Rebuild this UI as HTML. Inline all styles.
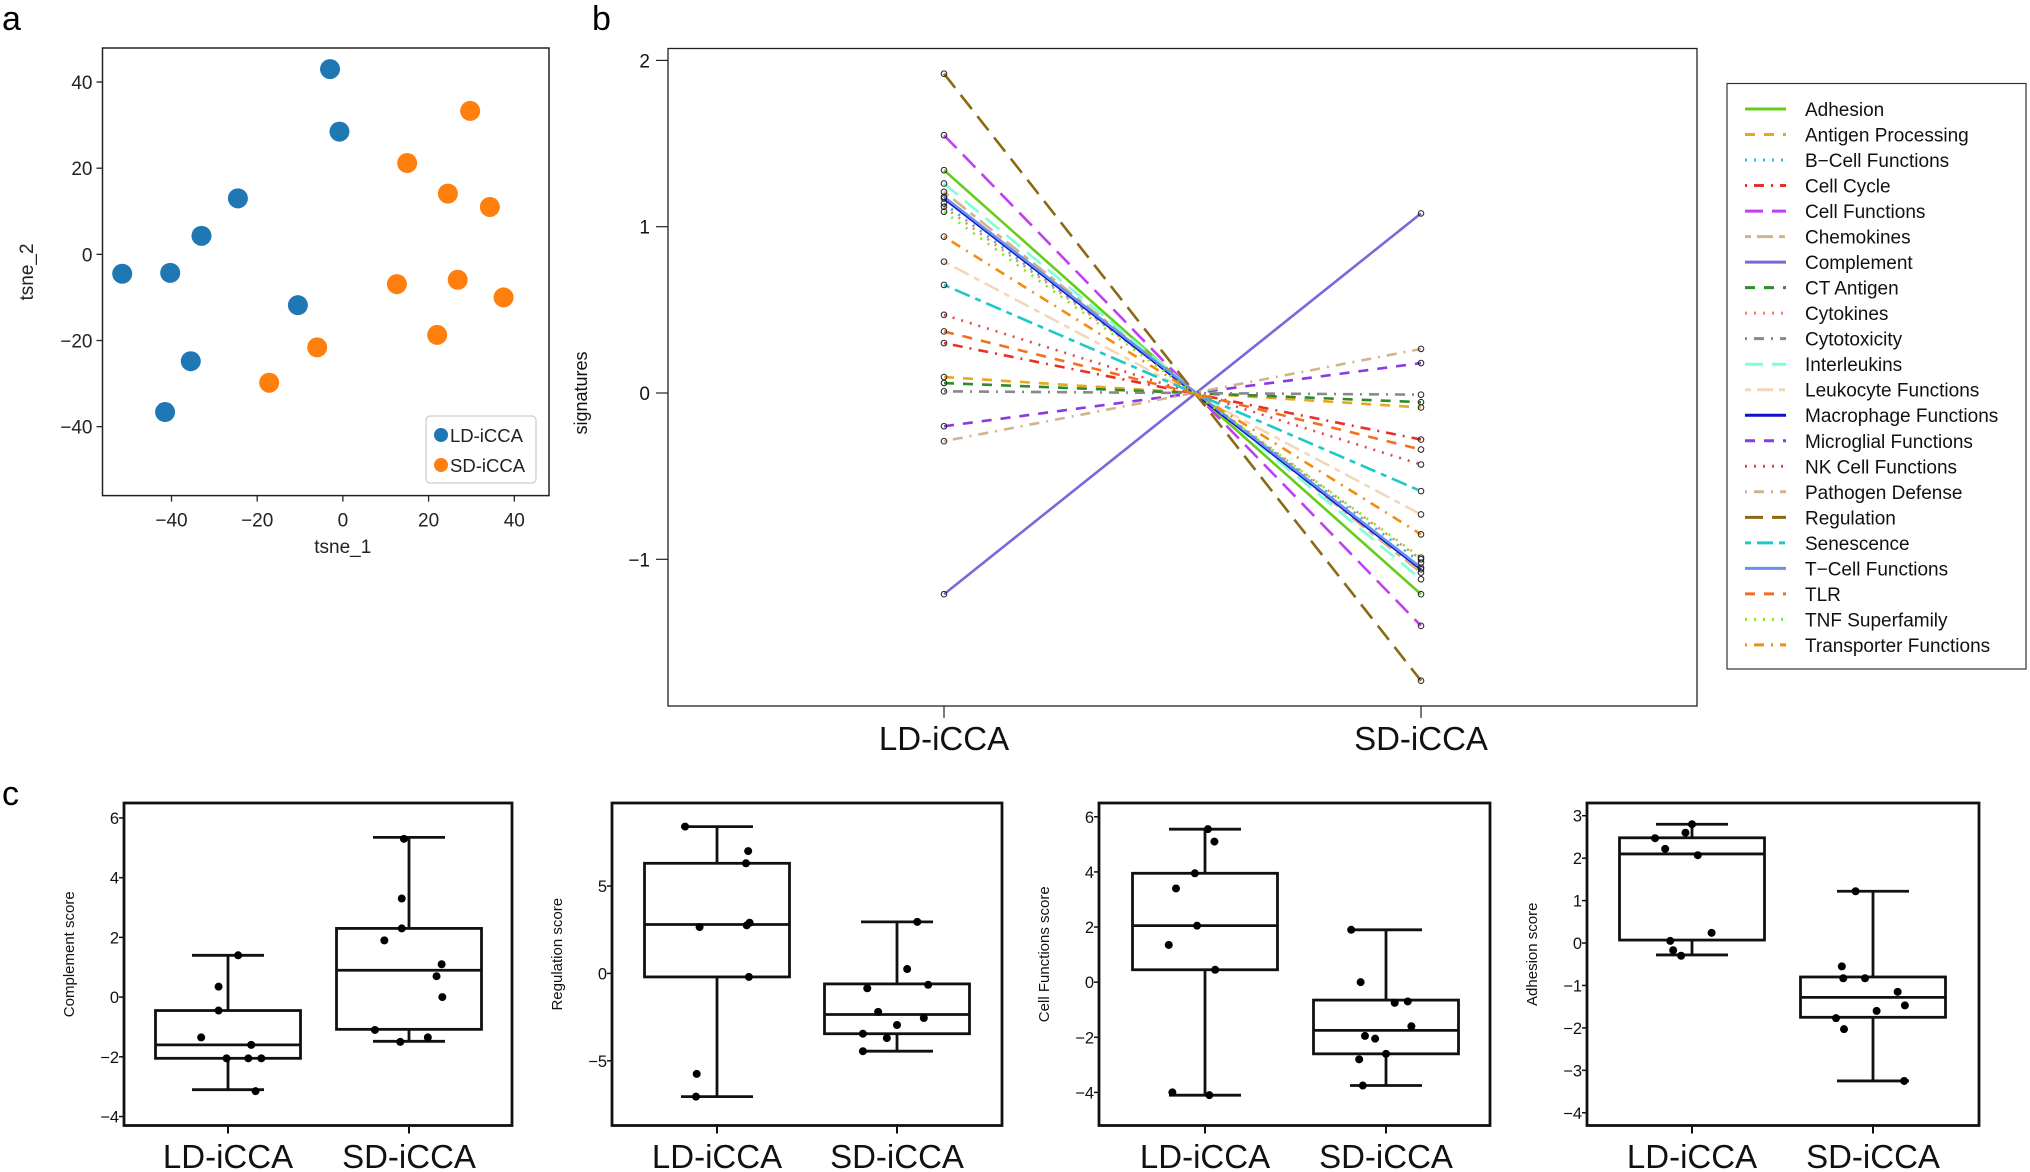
<!DOCTYPE html>
<html><head><meta charset="utf-8"><style>
html,body{margin:0;padding:0;background:#fff;}
svg{display:block;font-family:"Liberation Sans",Arial,sans-serif;}
</style></head><body>
<svg id="fig" width="2030" height="1172" viewBox="0 0 2030 1172" xmlns="http://www.w3.org/2000/svg">
<rect x="0" y="0" width="2030" height="1172" fill="#fff"/>
<text x="2" y="30" font-size="34">a</text>
<text x="592" y="30" font-size="34">b</text>
<text x="2" y="805" font-size="34">c</text>
</svg>
<script>
// ---------- Panel a data ----------
const tsneLDx = [-3, -0.8, -24.5, -33, -51.5, -40.3, -10.5, -35.5, -41.5];
const tsneLDy = [43, 28.5, 13, 4.3, -4.5, -4.3, -11.8, -24.8, -36.6];
const tsneSDx = [29.7, 15, 24.5, 34.3, 12.6, 26.8, 37.5, 22, -6, -17.2];
const tsneSDy = [33.3, 21.2, 14.1, 11, -6.9, -5.9, -10, -18.7, -21.6, -29.8];
const tsneXTicks = [-40, -20, 0, 20, 40];
const tsneYTicks = [-40, -20, 0, 20, 40];

// ---------- Panel b data ----------
const sigNames = ["Adhesion","Antigen Processing","B\u2212Cell Functions","Cell Cycle","Cell Functions","Chemokines","Complement","CT Antigen","Cytokines","Cytotoxicity","Interleukins","Leukocyte Functions","Macrophage Functions","Microglial Functions","NK Cell Functions","Pathogen Defense","Regulation","Senescence","T\u2212Cell Functions","TLR","TNF Superfamily","Transporter Functions"];
const sigLD = [1.34, 0.096, 1.14, 0.30, 1.55, 1.21, -1.21, 0.06, 1.12, 0.01, 1.26, 0.79, 1.17, -0.20, 0.47, -0.29, 1.92, 0.65, 1.18, 0.37, 1.09, 0.94];
const sigSD = [-1.21, -0.087, -1.02, -0.28, -1.40, -1.08, 1.08, -0.055, -1.00, -0.01, -1.12, -0.73, -1.06, 0.18, -0.43, 0.265, -1.73, -0.59, -1.05, -0.34, -0.99, -0.85];
const sigColors = ["#66CC1A","#E8A81A","#33B5E5","#E8302A","#C040F0","#D2B48C","#7B68D8","#2E8B2E","#F08060","#888888","#7FFFD4","#F0D8B8","#1010C8","#8A3AE0","#E04850","#D2B48C","#8B6914","#1CC8C8","#6A90EE","#F07020","#7CEE10","#F08C10"];
const sigStyles = ["solid","dashed","dotted","dotdash","longdash","twodash","solid","dashed","dotted","dotdash","longdash","twodash","solid","dashed","dotted","dotdash","longdash","twodash","solid","dashed","dotted","dotdash"];
const sigGroups = ["LD-iCCA","SD-iCCA"];
const sigYTicks = [-1, 0, 1, 2];

// ---------- Panel c data ----------
const boxTitles = ["Complement score","Regulation score","Cell Functions score","Adhesion score"];
const boxGroups = ["LD-iCCA","SD-iCCA"];
// [whiskerHigh, Q3, median, Q1, whiskerLow]
const boxStatsLD = [[1.4,-0.45,-1.6,-2.05,-3.1],[8.4,6.3,2.8,-0.2,-7.05],[5.55,3.95,2.05,0.45,-4.1],[2.8,2.48,2.1,0.07,-0.28]];
const boxStatsSD = [[5.35,2.3,0.9,-1.08,-1.48],[2.95,-0.6,-2.35,-3.45,-4.45],[1.9,-0.65,-1.75,-2.6,-3.75],[1.22,-0.8,-1.28,-1.75,-3.25]];
const ptsLD = [[1.4,0.35,-0.45,-1.35,-1.6,-2.05,-2.05,-2.05,-3.15],[8.4,7.0,6.3,2.65,2.9,2.75,-0.2,-5.75,-7.05],[5.55,5.1,3.95,3.4,2.05,1.35,0.45,-4.0,-4.1],[2.8,2.6,2.47,2.22,2.07,0.24,0.05,-0.17,-0.3]];
const jitLD = [[.14,-.13,-.13,-.37,.32,-.02,.28,.46,.38],[-.44,.43,.40,-.24,.45,.41,.44,-.28,-.29],[.04,.13,-.14,-.40,-.11,-.50,.14,-.45,.06],[0,-.09,-.51,-.37,.08,.27,-.30,-.26,-.15]];
const ptsSD = [[5.3,3.3,2.3,1.9,1.1,0.7,0,-1.1,-1.5,-1.35],[2.95,0.25,-0.85,-0.65,-2.2,-2.55,-2.95,-3.45,-3.7,-4.45],[1.9,0,-0.75,-0.7,-1.6,-1.95,-2.05,-2.6,-2.8,-3.75],[1.22,-0.55,-0.83,-0.83,-1.15,-1.47,-1.6,-1.77,-2.03,-3.25]];
const jitSD = [[-.07,-.10,-.10,-.34,.45,.38,.46,-.47,-.12,.26],[.28,.14,-.41,.43,-.26,.37,0,-.47,-.14,-.47],[-.48,-.35,.12,.30,.35,-.29,-.15,0,-.37,-.32],[-.24,-.43,-.41,-.11,.34,.44,.05,-.51,-.40,.43]];
const boxYTicks = [[-4,-2,0,2,4,6],[-5,0,5],[-4,-2,0,2,4,6],[-4,-3,-2,-1,0,1,2,3]];
const boxYMin = [-4.3, -8.7, -5.2, -4.3];
const boxYMax = [6.5, 9.75, 6.5, 3.3];

// ---------- helpers ----------
const NS = "http://www.w3.org/2000/svg";
const svg = document.getElementById("fig");
function mk(tag, attrs, parent, text) {
  const e = document.createElementNS(NS, tag);
  for (const k in attrs) e.setAttribute(k, attrs[k]);
  if (text !== undefined) e.textContent = text;
  (parent || svg).appendChild(e);
  return e;
}
function lin(d0, d1, r0, r1) { return v => r0 + (v - d0) * (r1 - r0) / (d1 - d0); }

// ---------- Panel a ----------
(function(){
  const L = 102.5, R = 549, T = 48, B = 495.6;
  const xs = lin(-56.1, 48.1, L, R), ys = lin(-56.0, 47.9, B, T);
  const g = mk("g", {});
  
  
  const frame = mk("rect", {x:L, y:T, width:R-L, height:B-T, fill:"none", stroke:"#222", "stroke-width":1.5}, g);
  
  
  tsneXTicks.forEach(v => {
    const x = xs(v);
    mk("line", {x1:x, x2:x, y1:B, y2:B+6, stroke:"#222", "stroke-width":1.3}, g);
    const t = mk("text", {x:x, y:B+31, "font-size":19, "text-anchor":"middle", fill:"#222"}, g, v < 0 ? "\u2212" + (-v) : String(v));
    
    
  });
  tsneYTicks.forEach(v => {
    const y = ys(v);
    mk("line", {x1:L-6, x2:L, y1:y, y2:y, stroke:"#222", "stroke-width":1.3}, g);
    const t = mk("text", {x:L-10, y:y+7, "font-size":19, "text-anchor":"end", fill:"#222"}, g, v < 0 ? "\u2212" + (-v) : String(v));
    
    
  });
  const xt = mk("text", {x:(L+R)/2 + 17, y:553, "font-size":19, "text-anchor":"middle", fill:"#222"}, g, "tsne_1");
  
  
  const yt = mk("text", {x:0, y:0, "font-size":19, "text-anchor":"middle", fill:"#222", transform:"translate(33,272) rotate(-90)"}, g, "tsne_2");
  
  
  tsneLDx.forEach((v, i) => {
    const c = mk("circle", {cx:xs(v), cy:ys(tsneLDy[i]), r:10, fill:"#1f77b4"}, g);
    
    
  });
  tsneSDx.forEach((v, i) => {
    const c = mk("circle", {cx:xs(v), cy:ys(tsneSDy[i]), r:10, fill:"#ff7f0e"}, g);
    
    
  });
  const lg = mk("g", {}, g);
  
  
  mk("rect", {x:426, y:416, width:110, height:67, rx:4, fill:"#fff", stroke:"#ccc", "stroke-width":1.2}, lg);
  mk("circle", {cx:441, cy:435, r:7, fill:"#1f77b4"}, lg);
  mk("circle", {cx:441, cy:465, r:7, fill:"#ff7f0e"}, lg);
  const a1 = mk("text", {x:450, y:442, "font-size":18.5, fill:"#222"}, lg, "LD-iCCA");
  
  
  const a2 = mk("text", {x:450, y:472, "font-size":18.5, fill:"#222"}, lg, "SD-iCCA");
  
  
})();

// ---------- Panel b ----------
function dashFor(s) {
  if (s === "dashed") return "10 9";
  if (s === "dotted") return "2 7";
  if (s === "dotdash") return "2 7 10 7";
  if (s === "longdash") return "18 9";
  if (s === "twodash") return "6 6 16 6";
  return "none";
}
(function(){
  const L = 668, R = 1697, T = 48.5, B = 706;
  const ys = lin(0, 1, 393, 226.7);
  const gx = [944, 1421];
  const g = mk("g", {});
  
  
  mk("rect", {x:L, y:T, width:R-L, height:B-T, fill:"none", stroke:"#222", "stroke-width":1.3}, g);
  sigYTicks.forEach(v => {
    const y = ys(v);
    mk("line", {x1:L-12, x2:L, y1:y, y2:y, stroke:"#222", "stroke-width":1.2}, g);
    const t = mk("text", {x:L-18, y:y+7, "font-size":19, "text-anchor":"end", fill:"#111"}, g, v < 0 ? "\u2212" + (-v) : String(v));
    
    
  });
  sigGroups.forEach((n, i) => {
    mk("line", {x1:gx[i], x2:gx[i], y1:B, y2:B+12, stroke:"#222", "stroke-width":1.2}, g);
    const t = mk("text", {x:gx[i], y:750, "font-size":33, "text-anchor":"middle", fill:"#111"}, g, n);
    
    
  });
  const yt = mk("text", {x:0, y:0, "font-size":18, "text-anchor":"middle", fill:"#111", transform:"translate(587,393) rotate(-90)"}, g, "signatures");
  
  
  sigNames.forEach((n, i) => {
    const l = mk("line", {x1:gx[0], y1:ys(sigLD[i]), x2:gx[1], y2:ys(sigSD[i]), stroke:sigColors[i], "stroke-width":2.6, "stroke-dasharray":dashFor(sigStyles[i])}, g);
    
    
  });
  sigNames.forEach((n, i) => {
    const c1 = mk("circle", {cx:gx[0], cy:ys(sigLD[i]), r:2.8, fill:"none", stroke:"#222", "stroke-width":1}, g);
    
    
    const c2 = mk("circle", {cx:gx[1], cy:ys(sigSD[i]), r:2.8, fill:"none", stroke:"#222", "stroke-width":1}, g);
    
    
  });
  // legend
  const lg = mk("g", {}, g);
  
  
  mk("rect", {x:1727, y:83.5, width:299, height:585.5, fill:"#fff", stroke:"#333", "stroke-width":1.2}, lg);
  sigNames.forEach((n, i) => {
    const y = 109 + i * 25.52;
    mk("line", {x1:1745, x2:1786, y1:y, y2:y, stroke:sigColors[i], "stroke-width":3, "stroke-dasharray":dashFor(sigStyles[i])}, lg);
    const t = mk("text", {x:1805, y:y+7, "font-size":19, fill:"#111"}, lg, n);
    
    
  });
})();

// ---------- Panel c ----------
const boxFrames = [[124,512],[612,1002],[1099,1490],[1587,1979]];
const boxCenters = [[228,409],[717,897],[1205,1386],[1692,1873]];
boxTitles.forEach((title, k) => {
  const L = boxFrames[k][0], R = boxFrames[k][1], T = 803, B = 1125.5;
  const ys = lin(boxYMin[k], boxYMax[k], B, T);
  const g = mk("g", {});
  
  
  mk("rect", {x:L, y:T, width:R-L, height:B-T, fill:"none", stroke:"#111", "stroke-width":2.8}, g);
  boxYTicks[k].forEach(v => {
    const y = ys(v);
    mk("line", {x1:L-5, x2:L, y1:y, y2:y, stroke:"#111", "stroke-width":1.5}, g);
    const t = mk("text", {x:L-5, y:y+6, "font-size":16.5, "text-anchor":"end", fill:"#111"}, g, v < 0 ? "\u2212" + (-v) : String(v));
    
    
  });
  const yt = mk("text", {x:0, y:0, "font-size":15, "text-anchor":"middle", fill:"#111", transform:"translate(" + (L-50) + "," + ((T+B)/2 - 10) + ") rotate(-90)"}, g, title);
  
  
  [boxStatsLD[k], boxStatsSD[k]].forEach((s, gi) => {
    const cx = boxCenters[k][gi];
    mk("line", {x1:cx, x2:cx, y1:B, y2:B+8, stroke:"#111", "stroke-width":2}, g);
    const lbl = mk("text", {x:cx, y:1168, "font-size":33, "text-anchor":"middle", fill:"#111"}, g, boxGroups[gi]);
    
    
    const bg = mk("g", {stroke:"#111", "stroke-width":2.8, fill:"none"}, g);
    
    
    mk("line", {x1:cx, x2:cx, y1:ys(s[0]), y2:ys(s[1])}, bg);
    mk("line", {x1:cx, x2:cx, y1:ys(s[3]), y2:ys(s[4])}, bg);
    mk("line", {x1:cx-36, x2:cx+36, y1:ys(s[0]), y2:ys(s[0])}, bg);
    mk("line", {x1:cx-36, x2:cx+36, y1:ys(s[4]), y2:ys(s[4])}, bg);
    mk("rect", {x:cx-72.5, y:ys(s[1]), width:145, height:ys(s[3])-ys(s[1])}, bg);
    mk("line", {x1:cx-72.5, x2:cx+72.5, y1:ys(s[2]), y2:ys(s[2])}, bg);
    const pts = gi === 0 ? ptsLD[k] : ptsSD[k];
    const jit = gi === 0 ? jitLD[k] : jitSD[k];
    pts.forEach((v, j) => {
      const c = mk("circle", {cx:cx + jit[j]*72.5, cy:ys(v), r:4, fill:"#000"}, g);
      
      
    });
  });
});
</script>
</body></html>
